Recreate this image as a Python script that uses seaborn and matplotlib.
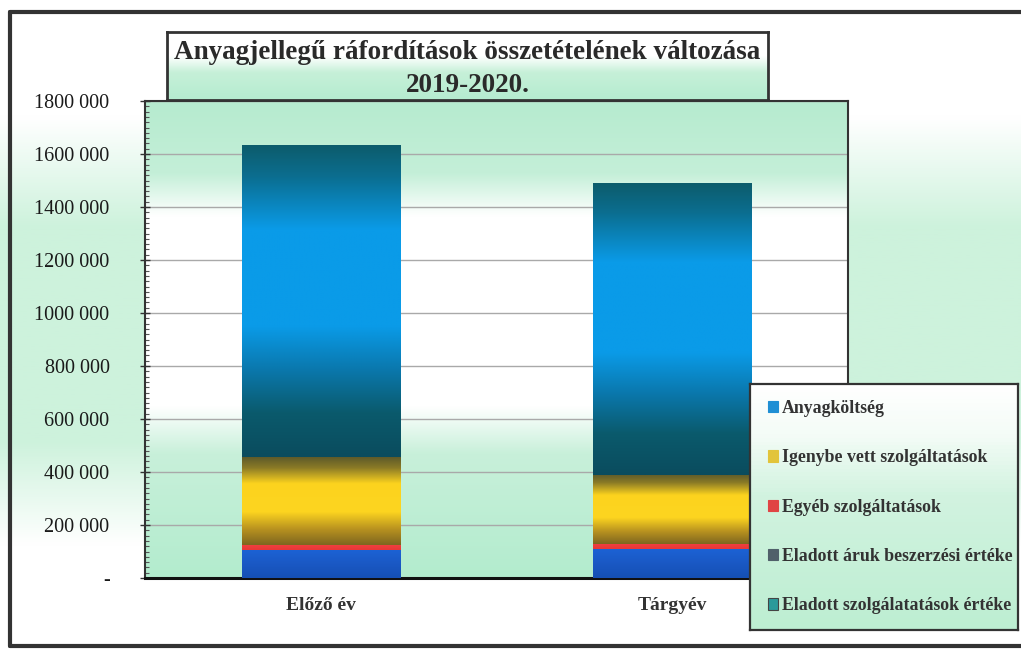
import numpy as np
import seaborn as sns
import matplotlib.pyplot as plt
from matplotlib.colors import LinearSegmentedColormap
from matplotlib.patches import Patch
from matplotlib.lines import Line2D
from matplotlib.ticker import MultipleLocator, FuncFormatter

# Anyagjellegű ráfordítások összetétele, 2019-2020

evek = ["Előző év", "Tárgyév"]
eladott_szolg = [0, 0]
eladott_aruk = [105000, 108000]
egyeb_szolg = [20000, 20000]
igenybe_vett = [330000, 262000]
anyagkoltseg = [1175000, 1100000]

sorozat_nevek = ["Eladott szolgálatatások értéke", "Eladott áruk beszerzési értéke",
                 "Egyéb szolgáltatások", "Igenybe vett szolgáltatások", "Anyagköltség"]
sorozatok = [eladott_szolg, eladott_aruk, egyeb_szolg, igenybe_vett, anyagkoltseg]

# szinatmenetek (felulrol lefele)
szinek = [
    [(0, "#2a9a9a"), (1, "#2a9a9a")],
    [(0, "#1c62d4"), (0.5, "#1a58c4"), (1, "#1550b4")],
    [(0, "#f04040"), (1, "#e83838")],
    [(0, "#5e5a2a"), (0.12, "#8a7a26"), (0.3, "#fcd31e"), (0.62, "#fdd520"), (0.82, "#b8921f"), (1, "#7e6620")],
    [(0, "#0d5c6c"), (0.1, "#0b6e90"), (0.27, "#0a9be8"), (0.58, "#0a9be8"), (0.72, "#0a78ad"),
     (0.86, "#0b5a6c"), (1, "#0a4c5e")],
]
legend_szin = ["#2a9a9a", "#50606a", "#e04444", "#e2c43a", "#1f8fd4"]

sns.set_theme(style="white")
plt.rcParams["font.family"] = ["Liberation Serif", "DejaVu Serif"]

fig = plt.figure(figsize=(10.21, 6.49), dpi=100)

# hatter
bgax = fig.add_axes([0, 0, 1, 1], zorder=-5)
bg_cmap = LinearSegmentedColormap.from_list("bg", [(0, "#ffffff"), (0.18, "#ffffff"), (0.35, "#cdf2dc"),
                                                   (0.68, "#cdf2dc"), (0.84, "#ffffff"), (1, "#ffffff")])
bgax.imshow(np.linspace(0, 1, 256).reshape(-1, 1), cmap=bg_cmap, extent=[0, 1, 0, 1], aspect="auto")
bgax.set_axis_off()

ax = fig.add_axes([145/1021, 1-578/649, 703/1021, 477/649])
ax.patch.set_alpha(0)
pa_cmap = LinearSegmentedColormap.from_list("pa", [(0, "#b6ebcf"), (0.15, "#c4efd8"), (0.24, "#ffffff"),
                                                   (0.64, "#ffffff"), (0.74, "#c8f0da"), (1, "#b3ecce")])
ax.imshow(np.linspace(0, 1, 256).reshape(-1, 1), cmap=pa_cmap, extent=[0, 1, 0, 1], aspect="auto",
          transform=ax.transAxes, zorder=-1)

also = np.zeros(len(evek))
for nev, ertek, szin in zip(sorozat_nevek, sorozatok, szinek):
    ertek = np.array(ertek)
    n0 = len(ax.patches)
    sns.barplot(x=evek, y=also + ertek, color=szin[len(szin)//2][1], width=0.45, ax=ax, zorder=2)
    cmap = LinearSegmentedColormap.from_list(nev, szin)
    for p, lo, v in zip(ax.patches[n0:], also, ertek):
        p.set_alpha(0)
        if v <= 0:
            continue
        ax.imshow(np.linspace(0, 1, 256).reshape(-1, 1), cmap=cmap, origin="upper",
                  extent=[p.get_x(), p.get_x() + p.get_width(), lo, lo + v],
                  aspect="auto", interpolation="bilinear", zorder=3)
    also = also + ertek

ax.set_xlim(-0.5, 1.5)
ax.set_ylim(0, 1800000)
ax.yaxis.set_major_locator(MultipleLocator(200000))
ax.yaxis.set_minor_locator(MultipleLocator(20000))
ax.yaxis.set_major_formatter(FuncFormatter(lambda v, pos: "-" if v == 0 else f"{int(v)//1000} 000"))
ax.yaxis.grid(True, color="#a9a9a9", lw=1)
ax.set_axisbelow(True)
ax.tick_params(axis="y", which="major", direction="inout", length=7, width=1, color="#333",
               labelsize=14.5, labelcolor="#1a1a1a", pad=22, left=True)
ax.tick_params(axis="y", which="minor", direction="in", length=3, width=0.8, color="#555", left=True)
ax.tick_params(axis="x", length=0, pad=14)
for lab in ax.get_xticklabels():
    lab.set_fontweight("bold")
    lab.set_fontsize(14)
    lab.set_color("#333")
for s in ax.spines.values():
    s.set_color("#333")
    s.set_linewidth(1.5)
ax.spines["bottom"].set_linewidth(2.2)
ax.spines["bottom"].set_color("#111")
ax.set_xlabel("")
ax.set_ylabel("")

# cim doboz
tax = fig.add_axes([167/1021, 1-100/649, 601/1021, 68/649], zorder=3)
t_cmap = LinearSegmentedColormap.from_list("t", [(0, "#ffffff"), (0.35, "#ffffff"), (0.6, "#c6f0d8"), (1, "#b5ecd0")])
tax.imshow(np.linspace(0, 1, 64).reshape(-1, 1), cmap=t_cmap, extent=[0, 1, 0, 1], aspect="auto")
tax.set_xticks([])
tax.set_yticks([])
for s in tax.spines.values():
    s.set_color("#333")
    s.set_linewidth(2)
tax.text(0.5, 0.70, "Anyagjellegű ráfordítások összetételének változása", ha="center", va="center",
         fontsize=19.5, fontweight="bold", color="#2a2a2a", transform=tax.transAxes)
tax.text(0.5, 0.21, "2019-2020.", ha="center", va="center",
         fontsize=19.5, fontweight="bold", color="#2a2a2a", transform=tax.transAxes)

# jelmagyarazat
lax = fig.add_axes([750/1021, 1-630/649, 268/1021, 246/649], zorder=4)
l_cmap = LinearSegmentedColormap.from_list("l", [(0, "#ffffff"), (0.2, "#f4fcf7"), (0.45, "#d2f3e0"), (1, "#bdeed2")])
lax.imshow(np.linspace(0, 1, 64).reshape(-1, 1), cmap=l_cmap, extent=[0, 1, 0, 1], aspect="auto")
lax.set_xticks([])
lax.set_yticks([])
for s in lax.spines.values():
    s.set_color("#333")
    s.set_linewidth(1.6)
handles = [Patch(facecolor=c, edgecolor="#444" if i == 0 else c, lw=0.8)
           for i, c in enumerate(legend_szin)][::-1]
leg = lax.legend(handles, sorozat_nevek[::-1], loc="center left", bbox_to_anchor=(0.0, 0.5),
                 frameon=False, borderpad=0, borderaxespad=1.0, handlelength=0.6, handleheight=0.6,
                 handletextpad=0.2, labelspacing=1.82, prop={"weight": "bold", "size": 12.8})
for t in leg.get_texts():
    t.set_color("#333")

# kulso keret
for xs, ys in [([10, 10], [12, 646]), ([10, 1021], [12, 12]), ([10, 1021], [646, 646])]:
    fig.add_artist(Line2D([x/1021 for x in xs], [1 - y/649 for y in ys], transform=fig.transFigure,
                          color="#333", lw=3))

fig.savefig("out.png", dpi=100)
